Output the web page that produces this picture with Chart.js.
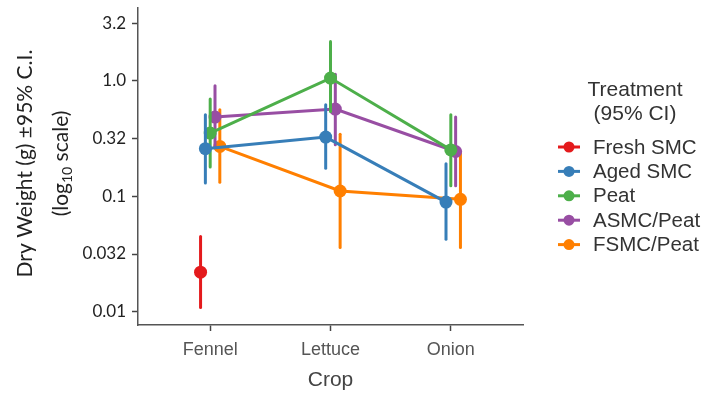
<!DOCTYPE html>
<html>
<head>
<meta charset="utf-8">
<script src="https://cdn.jsdelivr.net/npm/chart.js@4"></script>
<style>
	html, body { margin: 0; padding: 0; background: #fff; }
	#wrap { width: 712px; height: 395px; }
</style>
</head>
<body>
<div id="wrap"><canvas id="chart" width="712" height="395"></canvas></div>
<script>
const crops = ['Fennel', 'Lettuce', 'Onion'];
const treatments = ['Fresh SMC', 'Aged SMC', 'Peat', 'ASMC/Peat', 'FSMC/Peat'];
const colors = ['#e41a1c', '#377eb8', '#4daf4a', '#984ea3', '#ff7f00'];

// mean dry weight per crop, with lower / upper 95% CI
const freshSMC = [0.022, null, null];
const freshSMCLo = [0.0109, null, null];
const freshSMCHi = [0.0448, null, null];

const agedSMC = [0.258, 0.325, 0.089];
const agedSMCLo = [0.130, 0.175, 0.0425];
const agedSMCHi = [0.507, 0.62, 0.191];

const peat = [0.352, 1.055, 0.252];
const peatLo = [0.179, 0.542, 0.123];
const peatHi = [0.694, 2.19, 0.507];

const asmcPeat = [0.485, 0.569, 0.244];
const asmcPeatLo = [0.27, 0.279, 0.123];
const asmcPeatHi = [0.905, 1.14, 0.485];

const fsmcPeat = [0.27, 0.111, 0.094];
const fsmcPeatLo = [0.132, 0.036, 0.036];
const fsmcPeatHi = [0.561, 0.345, 0.244];

const yTicks = [0.01, 0.0316, 0.1, 0.316, 1, 3.16];
const yTickLabels = ['0.01', '0.032', '0.1', '0.32', '1.0', '3.2'];

const series = [
	[freshSMC, freshSMCLo, freshSMCHi],
	[agedSMC, agedSMCLo, agedSMCHi],
	[peat, peatLo, peatHi],
	[asmcPeat, asmcPeatLo, asmcPeatHi],
	[fsmcPeat, fsmcPeatLo, fsmcPeatHi]
];
const dodge = [-0.08, -0.04, 0, 0.04, 0.08];

const datasets = series.map((s, i) => ({
	label: treatments[i],
	data: s[0].map((v, j) => (v == null ? null : { x: j + dodge[i], y: v, lo: s[1][j], hi: s[2][j] })).filter(Boolean),
	borderColor: colors[i],
	backgroundColor: colors[i],
	borderWidth: 3,
	pointRadius: 6.5,
	pointBorderWidth: 0,
	pointHoverRadius: 6.5,
	tension: 0
}));

// vertical CI bars drawn under each series' points
const errorBars = {
	id: 'errorBars',
	beforeDatasetDraw(chart, args) {
		const ds = chart.data.datasets[args.index];
		const xs = chart.scales.x, ys = chart.scales.y;
		const ctx = chart.ctx;
		ctx.save();
		ctx.strokeStyle = ds.borderColor;
		ctx.lineWidth = 3;
		ctx.lineCap = 'round';
		ds.data.forEach((p) => {
			const x = xs.getPixelForValue(p.x);
			ctx.beginPath();
			ctx.moveTo(x, ys.getPixelForValue(p.lo));
			ctx.lineTo(x, ys.getPixelForValue(p.hi));
			ctx.stroke();
		});
		ctx.restore();
	}
};

const decorations = {
	id: 'decorations',
	afterDraw(chart) {
		const ctx = chart.ctx;
		const a = chart.chartArea;
		ctx.save();
		// y axis title
		ctx.fillStyle = '#222';
		ctx.textAlign = 'center';
		ctx.textBaseline = 'middle';
		ctx.translate(25, (a.top + a.bottom) / 2 - 3);
		ctx.rotate(-Math.PI / 2);
		ctx.font = '21px Lato';
		ctx.fillText('Dry Weight (g) \u00b195% C.I.', 0, 0);
		const p1 = '(log', sub = '10', p2 = ' scale)';
		const w1 = ctx.measureText(p1).width, w2 = ctx.measureText(p2).width;
		ctx.font = '14px Lato';
		const ws = ctx.measureText(sub).width;
		let x = -(w1 + ws + w2) / 2;
		ctx.textAlign = 'left';
		ctx.font = '21px Lato';
		ctx.fillText(p1, x, 36);
		ctx.font = '14px Lato';
		ctx.fillText(sub, x + w1, 42);
		ctx.font = '21px Lato';
		ctx.fillText(p2, x + w1 + ws, 36);
		ctx.restore();

		// legend
		ctx.save();
		const lx = a.right + 46;
		ctx.fillStyle = '#333';
		ctx.font = '21px "Liberation Sans"';
		ctx.textAlign = 'center';
		ctx.textBaseline = 'middle';
		ctx.fillText('Treatment', lx + 66, 90);
		ctx.fillText('(95% CI)', lx + 66, 114);
		ctx.textAlign = 'left';
		ctx.font = '20.5px "Liberation Sans"';
		treatments.forEach((t, i) => {
			const y = 147 + i * 24.4;
			ctx.strokeStyle = colors[i];
			ctx.fillStyle = colors[i];
			ctx.lineWidth = 3;
			ctx.beginPath();
			ctx.moveTo(lx - 11, y);
			ctx.lineTo(lx + 11, y);
			ctx.stroke();
			ctx.beginPath();
			ctx.arc(lx, y, 5.5, 0, Math.PI * 2);
			ctx.fill();
			ctx.fillStyle = '#333';
			ctx.fillText(t, lx + 24, y + 1);
		});
		ctx.restore();
	}
};

new Chart(document.getElementById('chart'), {
	type: 'line',
	data: { datasets },
	plugins: [errorBars, decorations],
	options: {
		responsive: false,
		animation: false,
		events: [],
		layout: { padding: { left: 0, top: 8, right: 189, bottom: 0 } },
		plugins: { legend: { display: false }, tooltip: { enabled: false } },
		scales: {
			x: {
				type: 'linear',
				min: -0.6,
				max: 2.6,
				afterBuildTicks: (s) => { s.ticks = crops.map((c, i) => ({ value: i })); },
				afterFit: (s) => { s.height = 70; s.paddingLeft = 0; s.paddingRight = 0; },
				ticks: {
					callback: (v) => crops[v],
					color: '#555',
					font: { family: 'Liberation Sans', size: 18 },
					padding: 8
				},
				grid: { drawOnChartArea: false, drawTicks: true, tickLength: 6, color: '#444', tickWidth: 1.5 },
				border: { display: true, color: '#555', width: 1.5 },
				title: {
					display: true,
					text: 'Crop',
					color: '#444',
					font: { family: 'Liberation Sans', size: 21 },
					padding: { top: 0, bottom: 2 }
				}
			},
			y: {
				type: 'logarithmic',
				min: Math.pow(10, -2.115),
				max: Math.pow(10, 0.63),
				afterBuildTicks: (s) => { s.ticks = yTicks.map((v) => ({ value: v })); },
				afterFit: (s) => { s.width = 138; s.paddingTop = 0; s.paddingBottom = 0; },
				ticks: {
					callback: (v, i) => yTickLabels[i],
					color: '#222',
					font: { family: 'Lato', size: 17 },
					padding: 6
				},
				grid: { drawOnChartArea: false, drawTicks: true, tickLength: 6, color: '#444', tickWidth: 1.5 },
				border: { display: true, color: '#555', width: 1.5 }
			}
		}
	}
});
</script>
</body>
</html>
